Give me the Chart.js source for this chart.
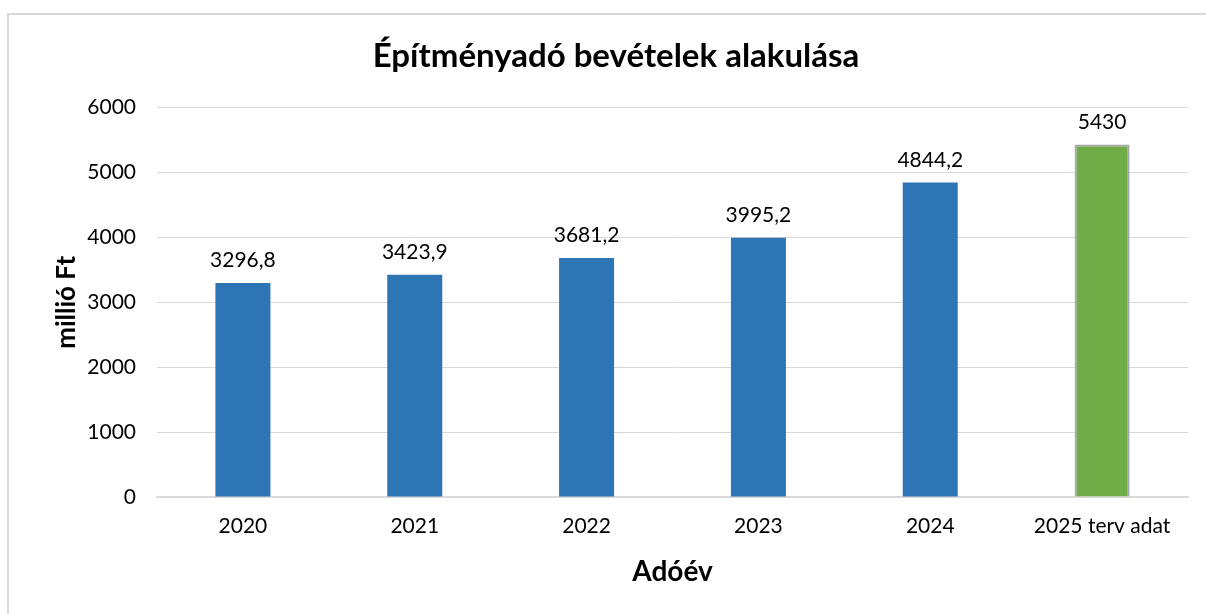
<!DOCTYPE html>
<html>
<head>
<meta charset="utf-8">
<script src="https://cdn.jsdelivr.net/npm/chart.js@4"></script>
<style>
  body { margin: 0; background: #fff; }
  #frame { position: absolute; left: 7px; top: 13px; width: 1210px; height: 620px; border: 2px solid #d9d9d9; }
  #wrap { position: absolute; left: 0; top: 0; width: 1206px; height: 614px; }
</style>
</head>
<body>
<div id="frame"></div>
<div id="wrap"><canvas id="adochart"></canvas></div>
<script>
const years = ["2020", "2021", "2022", "2023", "2024", "2025 terv adat"];
const revenue = [3296.8, 3423.9, 3681.2, 3995.2, 4844.2, 5430];
const barColors = ["#2e75b6", "#2e75b6", "#2e75b6", "#2e75b6", "#2e75b6", "#70ad47"];
const yTicks = [0, 1000, 2000, 3000, 4000, 5000, 6000];

const fontName = "Lato, 'Open Sans', sans-serif";

// values above bars, written with a decimal comma
const valueLabels = {
  id: "valueLabels",
  afterDatasetsDraw(chart) {
    const ctx = chart.ctx;
    const meta = chart.getDatasetMeta(0);
    ctx.save();
    ctx.font = "21px " + fontName;
    ctx.fillStyle = "#000";
    ctx.textAlign = "center";
    ctx.textBaseline = "bottom";
    meta.data.forEach((bar, i) => {
      ctx.fillText(String(revenue[i]).replace(".", ","), bar.x, bar.y - 12);
    });
    ctx.restore();
  }
};

const ctx = document.getElementById("adochart").getContext("2d");
const chart = new Chart(ctx, {
  type: "bar",
  data: {
    labels: years,
    datasets: [{
      data: revenue,
      backgroundColor: barColors,
      borderColor: barColors.map((c, i) => i === 5 ? "#a5a5a5" : c),
      borderWidth: barColors.map((c, i) => i === 5 ? 2 : 0),
      categoryPercentage: 1,
      barPercentage: 0.32
    }]
  },
  options: {
    responsive: true,
    maintainAspectRatio: false,
    animation: false,
    layout: { padding: { left: 44, right: 18, top: 0, bottom: 0 } },
    plugins: {
      legend: { display: false },
      tooltip: { enabled: false },
      title: {
        display: true,
        text: "Építményadó bevételek alakulása",
        color: "#000",
        font: { family: fontName, size: 33, weight: "bold" },
        padding: { top: 37, bottom: 31 }
      }
    },
    scales: {
      x: {
        grid: { display: false, drawTicks: false },
        border: { color: "#d9d9d9", width: 2 },
        ticks: { color: "#000", padding: 17, font: { family: fontName, size: 21 } },
        title: {
          display: true,
          text: "Adóév",
          color: "#000",
          font: { family: fontName, size: 28, weight: "bold" },
          padding: { top: 0, bottom: 25 }
        },
        afterFit: s => { s.height = 117; }
      },
      y: {
        min: 0,
        max: 6000,
        afterBuildTicks: s => { s.ticks = yTicks.map(v => ({ value: v })); },
        grid: { color: "#d9d9d9", lineWidth: 1, drawTicks: false },
        border: { display: false },
        ticks: {
          color: "#000",
          padding: 21,
          font: { family: fontName, size: 21 },
          callback: v => String(v)
        },
        title: {
          display: true,
          text: "millió Ft",
          color: "#000",
          font: { family: fontName, size: 26, weight: "bold" },
          padding: 7
        },
        afterFit: s => { s.width = 113; }
      }
    }
  },
  plugins: [valueLabels]
});
</script>
</body>
</html>
